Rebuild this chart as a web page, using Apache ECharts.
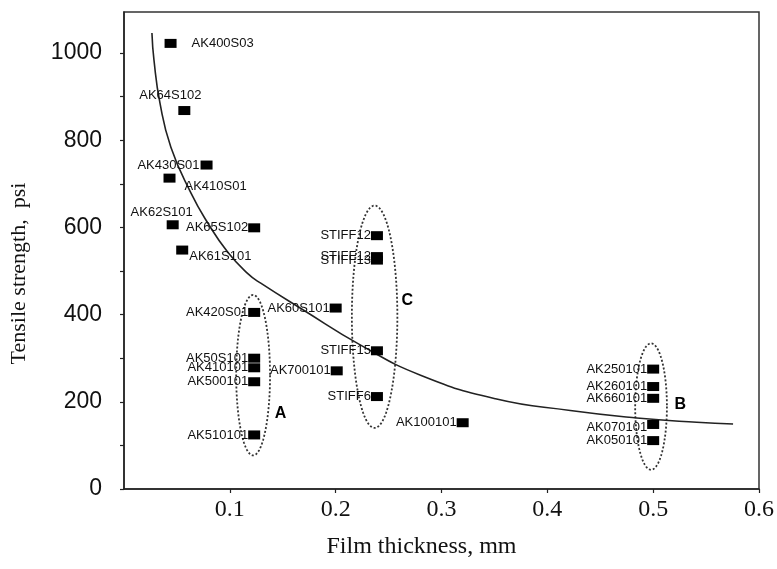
<!DOCTYPE html>
<html>
<head>
<meta charset="utf-8">
<script src="https://cdn.jsdelivr.net/npm/echarts@6/dist/echarts.min.js"></script>
<style>
  html, body { margin: 0; padding: 0; background: #fff; }
  #chart { width: 777px; height: 569px; }
</style>
</head>
<body>
<div id="chart"></div>
<script>
// Film samples: name, thickness (mm), tensile strength (psi)
const sampleNames = ['AK400S03', 'AK64S102', 'AK430S01', 'AK410S01', 'AK62S101', 'AK65S102', 'AK61S101',
  'AK420S01', 'AK50S101', 'AK410101', 'AK500101', 'AK510101', 'AK60S101', 'AK700101',
  'STIFF12', 'STIFF12 ', 'STIFF13', 'STIFF15', 'STIFF6', 'AK100101',
  'AK250101', 'AK260101', 'AK660101', 'AK070101', 'AK050101'];
const thickness = [0.044, 0.057, 0.078, 0.043, 0.046, 0.123, 0.055,
  0.123, 0.123, 0.123, 0.123, 0.123, 0.200, 0.201,
  0.239, 0.239, 0.239, 0.239, 0.239, 0.320,
  0.500, 0.500, 0.500, 0.500, 0.500];
const strength = [1022, 868, 743, 713, 606, 599, 548,
  405, 300, 278, 246, 124, 415, 271,
  581, 533, 525, 317, 212, 152,
  275, 235, 208, 148, 111];

// Trend curve through the data
const trendX = [0.0264, 0.0283, 0.034, 0.0443, 0.0632, 0.0792, 0.0981, 0.117, 0.1292, 0.1698,
  0.2236, 0.2802, 0.351, 0.4217, 0.4846, 0.5412, 0.5755];
const trendY = [1046, 984, 885, 784, 679, 610, 543, 494, 472, 410,
  330, 261, 207, 180, 163, 153, 149];

// Groups circled with dotted ellipses (centre and half-extents in data units)
const groupNames = ['A', 'B', 'C'];
const groupCenterX = [0.122, 0.498, 0.2368];
const groupCenterY = [261, 189, 395];
const groupHalfX = [0.016, 0.015, 0.0215];
const groupHalfY = [184, 145, 255];
// Where each group letter sits
const groupLetterX = [0.148, 0.5255, 0.2676];
const groupLetterY = [174, 193, 433];

// Axis ticks
const thicknessTicks = [0.1, 0.2, 0.3, 0.4, 0.5, 0.6];
const strengthTicks = [0, 100, 200, 300, 400, 500, 600, 700, 800, 900, 1000];
const strengthLabels = [0, 200, 400, 600, 800, 1000];

// Label placement around each marker
const labelPlacement = {
  'AK400S03': { position: 'right', distance: 15 },
  'AK64S102': { position: 'top', distance: 4, offset: [-14, 0] },
  'AK410S01': { position: 'right', distance: 9, offset: [0, 8] },
  'AK62S101': { position: 'top', distance: 1, offset: [-11, 0] },
  'AK61S101': { position: 'right', distance: 1, offset: [0, 6] },
  'AK430S01': { position: 'left', distance: 1 },
  'AK070101': { position: 'left', distance: 0, offset: [0, 3] }
};

const points = sampleNames.map((n, i) => {
  const p = labelPlacement[n] || { position: 'left', distance: 0 };
  return {
    name: n.trim(),
    value: [thickness[i], strength[i]],
    label: Object.assign({ show: true }, p)
  };
});

const ellipses = groupNames.map((g, i) => [groupCenterX[i], groupCenterY[i], groupHalfX[i], groupHalfY[i]]);
const letters = groupNames.map((g, i) => ({ name: g, value: [groupLetterX[i], groupLetterY[i]] }));

const chart = echarts.init(document.getElementById('chart'), null, { renderer: 'canvas' });
chart.setOption({
  animation: false,
  backgroundColor: '#fff',
  grid: {
    left: 123, right: 17, top: 12, bottom: 80,
    show: true, borderColor: '#333', borderWidth: 1.5, backgroundColor: 'transparent'
  },
  xAxis: {
    type: 'value', min: 0, max: 0.6,
    name: 'Film thickness, mm', nameLocation: 'middle', nameGap: 46,
    nameTextStyle: { fontFamily: 'Liberation Serif', fontSize: 24, color: '#111', padding: [0, 40, 0, 0] },
    axisLine: { show: true, lineStyle: { color: '#222', width: 1.5 } },
    axisTick: { show: true, length: 4, customValues: thicknessTicks, lineStyle: { color: '#222', width: 1.2 } },
    axisLabel: {
      customValues: thicknessTicks, margin: 9,
      fontFamily: 'Liberation Serif', fontSize: 24, color: '#111',
      formatter: v => v.toFixed(1)
    },
    splitLine: { show: false }
  },
  yAxis: {
    type: 'value', min: 0, max: 1094,
    name: 'Tensile strength,  psi', nameLocation: 'middle', nameGap: 94,
    nameTextStyle: { fontFamily: 'Liberation Serif', fontSize: 22, color: '#111', padding: [0, 46, 0, 0] },
    axisLine: { show: true, lineStyle: { color: '#222', width: 1.5 } },
    axisTick: { show: true, length: 4, customValues: strengthTicks, lineStyle: { color: '#222', width: 1.2 } },
    axisLabel: {
      customValues: strengthLabels, margin: 22,
      fontFamily: 'Liberation Sans', fontSize: 23, color: '#111',
      formatter: v => String(v)
    },
    splitLine: { show: false }
  },
  series: [
    {
      type: 'line', smooth: 0.5, showSymbol: false, silent: true,
      data: trendX.map((x, i) => [x, trendY[i]]),
      lineStyle: { color: '#222', width: 1.6 },
      z: 2
    },
    {
      type: 'custom', silent: true, data: ellipses,
      renderItem: function (params, api) {
        const c = api.coord([api.value(0), api.value(1)]);
        const s = api.size([api.value(2), api.value(3)]);
        const pts = [];
        for (let k = 0; k < 120; k++) {
          const t = k / 120 * Math.PI * 2;
          pts.push([c[0] + s[0] * Math.cos(t), c[1] + s[1] * Math.sin(t)]);
        }
        return {
          type: 'polygon', shape: { points: pts },
          style: { fill: 'none', stroke: '#333', lineWidth: 1.8, lineDash: [2, 2] }
        };
      },
      z: 1
    },
    {
      type: 'scatter', data: points,
      symbol: 'rect', symbolSize: [12, 9],
      itemStyle: { color: '#000', opacity: 1 },
      label: {
        fontFamily: 'Liberation Sans', fontSize: 13, color: '#111', opacity: 1,
        formatter: p => p.name
      },
      z: 3
    },
    {
      type: 'scatter', data: letters, symbolSize: 0,
      itemStyle: { opacity: 1 },
      label: {
        show: true, position: 'inside', formatter: p => p.name, opacity: 1,
        fontFamily: 'Liberation Sans', fontWeight: 'bold', fontSize: 16, color: '#000'
      },
      z: 4
    }
  ]
});
</script>
</body>
</html>
